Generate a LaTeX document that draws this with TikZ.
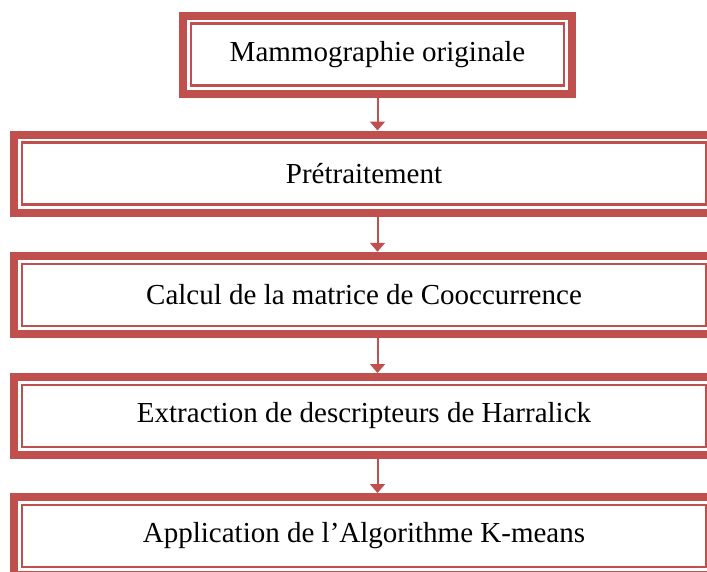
\documentclass[tikz,border=0pt]{standalone}
\usepackage{fontspec}
\setmainfont{Liberation Serif}
\usetikzlibrary{arrows.meta,fit}
\definecolor{framered}{HTML}{C0504D}
\tikzset{
  stepbox/.style={draw=framered,line width=2.5pt,outer sep=0pt,minimum height=62pt,
    font=\fontsize{29}{34}\selectfont},
  outerframe/.style={draw=framered,line width=8pt,inner sep=8pt},
  flowarrow/.style={draw=framered,line width=2pt,-{Triangle[width=15pt,length=9pt]}}
}
\begin{document}
\begin{tikzpicture}[x=1pt,y=-1pt]
  \useasboundingbox (0,0) rectangle (707,571);
% boxes
  \node[stepbox,minimum width=373pt] (b1) at (377.5,54.5) {Mammographie originale};
  \node[stepbox,minimum width=684pt] (b2) at (364,173.5) {Prétraitement};
  \node[stepbox,minimum width=684pt] (b3) at (364,294.75) {Calcul de la matrice de Cooccurrence};
  \node[stepbox,minimum width=684pt] (b4) at (364,416) {Extraction de descripteurs de Harralick};
  \node[stepbox,minimum width=684pt] (b5) at (364,536) {Application de l’Algorithme K-means};
% frames
  \foreach \n in {1,...,5}
    \node[outerframe,fit=(b\n)] (f\n) {};
% arrows
  \foreach \a/\b in {1/2,2/3,3/4,4/5}
    \draw[flowarrow] (f1.south |- f\a.south) -- (f1.south |- f\b.north);
\end{tikzpicture}
\end{document}
